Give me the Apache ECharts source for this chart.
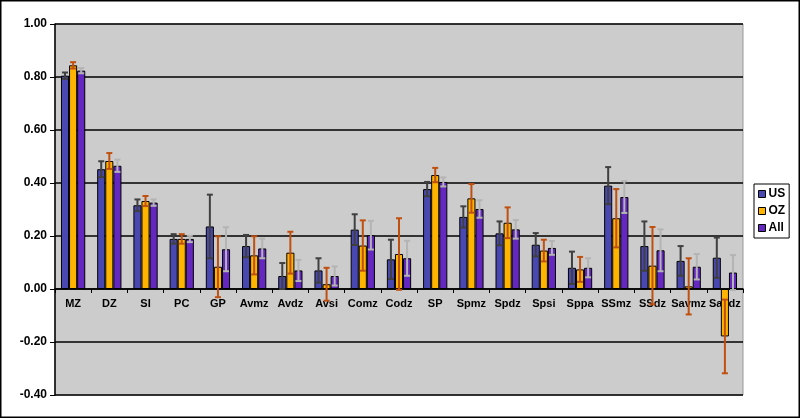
<!DOCTYPE html>
<html><head><meta charset="utf-8">
<script src="https://cdn.jsdelivr.net/npm/echarts@6/dist/echarts.min.js"></script>
<style>html,body{margin:0;padding:0;background:#fff}#c{width:800px;height:418px}</style>
</head><body><div id="c"></div>
<script>
const categories = ['MZ','DZ','SI','PC','GP','Avmz','Avdz','Avsi','Comz','Codz','SP','Spmz','Spdz','Spsi','Sppa','SSmz','SSdz','Savmz','Savdz'];
const usValues  = [0.805,0.452,0.316,0.189,0.236,0.162,0.049,0.070,0.224,0.112,0.377,0.272,0.210,0.167,0.080,0.390,0.162,0.106,0.118];
const ozValues  = [0.844,0.483,0.332,0.189,0.084,0.127,0.137,0.018,0.164,0.132,0.430,0.342,0.250,0.145,0.074,0.267,0.088,0.010,-0.179];
const allValues = [0.824,0.465,0.326,0.189,0.150,0.153,0.070,0.049,0.203,0.116,0.404,0.302,0.225,0.155,0.080,0.347,0.146,0.084,0.062];
const usErr  = [0.012,0.030,0.022,0.018,0.120,0.042,0.049,0.046,0.058,0.074,0.027,0.040,0.045,0.044,0.061,0.070,0.093,0.056,0.076];
const ozErr  = [0.012,0.030,0.019,0.018,0.115,0.072,0.079,0.062,0.095,0.135,0.027,0.054,0.058,0.041,0.047,0.110,0.146,0.106,0.139];
const allErr = [0.010,0.023,0.012,0.012,0.083,0.037,0.040,0.036,0.054,0.066,0.017,0.033,0.035,0.026,0.036,0.060,0.079,0.048,0.066];
const yTicks = [-0.4,-0.2,0,0.2,0.4,0.6,0.8,1.0];

const font = 'Liberation Sans, Arial, sans-serif';
const CAT_GAP = 0.33;
const GRID = {left:55, right:57, top:24, bottom:23};
const Y_MIN = -0.4, Y_MAX = 1.0;
const plotH = 418 - GRID.top - GRID.bottom;
const zeroOffset = -plotH * (0 - Y_MIN) / (Y_MAX - Y_MIN);

function errSeries(name, vals, errs, color, slot){
  return {
    type:'custom', name:name, z:5,
    data: vals.map((v,i)=>[i,v,errs[i]]),
    encode:{x:0,y:1},
    renderItem:function(params, api){
      const i = api.value(0), v = api.value(1), e = api.value(2);
      const cw = api.size([1,0])[0];
      const bw = cw*(1-CAT_GAP)/3;
      const c = api.coord([i,v]);
      const x = c[0] + (slot-1)*bw;
      const t = api.coord([i,v+e])[1];
      const b = api.coord([i,v-e])[1];
      const h = 3;
      const st = {stroke:color, lineWidth:2};
      return {type:'group', children:[
        {type:'line', shape:{x1:x,y1:t,x2:x,y2:b}, style:st},
        {type:'line', shape:{x1:x-h,y1:t,x2:x+h,y2:t}, style:st},
        {type:'line', shape:{x1:x-h,y1:b,x2:x+h,y2:b}, style:st}
      ]};
    }
  };
}
const barStyle = c => ({color:c, borderColor:'#000', borderWidth:1});
const chart = echarts.init(document.getElementById('c'));
chart.setOption({
  animation:false,
  textStyle:{fontFamily:font},
  graphic:[{type:'rect', shape:{x:0.75,y:0.75,width:798.5,height:416.5}, style:{fill:'none', stroke:'#000', lineWidth:1.5}, z:100}],
  grid:Object.assign({show:true, backgroundColor:'#cccccc', borderColor:'#999', borderWidth:1}, GRID),
  legend:{
    data:['US','OZ','All'], orient:'vertical', left:754, top:184,
    itemWidth:7, itemHeight:7, itemGap:5, padding:[4,4,4,4],
    borderColor:'#000', borderWidth:1, backgroundColor:'#fff',
    textStyle:{fontFamily:font, fontWeight:'bold', fontSize:12, color:'#000', padding:[0,0,0,-2]},
    itemStyle:{borderColor:'#000', borderWidth:1},
    icon:'rect'
  },
  xAxis:{
    type:'category', data:categories, position:'bottom', offset:zeroOffset,
    axisLine:{onZero:false, lineStyle:{color:'#000', width:1.5}},
    axisTick:{show:true, length:4, lineStyle:{color:'#000'}},
    axisLabel:{fontFamily:font, fontWeight:'bold', fontSize:11, color:'#000', margin:9, interval:0}
  },
  yAxis:{
    type:'value', min:Y_MIN, max:Y_MAX, interval:0.2,
    axisLine:{show:true, lineStyle:{color:'#000', width:1.5}},
    axisTick:{show:true, length:5, lineStyle:{color:'#000'}},
    axisLabel:{fontFamily:font, fontWeight:'bold', fontSize:12, color:'#000', margin:8,
      formatter:v=>{const f=yTicks.find(t=>Math.abs(t-v)<1e-9); return (f!==undefined?f:v).toFixed(2);}},
    splitLine:{show:true, lineStyle:{color:'#000', width:1.5}}
  },
  series:[
    {type:'bar', name:'US', data:usValues, barGap:'0%', barCategoryGap:(CAT_GAP*100)+'%', itemStyle:barStyle('#4848B0')},
    {type:'bar', name:'OZ', data:ozValues, barGap:'0%', barCategoryGap:(CAT_GAP*100)+'%', itemStyle:barStyle('#FFB400')},
    {type:'bar', name:'All', data:allValues, barGap:'0%', barCategoryGap:(CAT_GAP*100)+'%', itemStyle:barStyle('#6428C0')},
    errSeries('US err', usValues, usErr, '#404040', 0),
    errSeries('OZ err', ozValues, ozErr, '#C05010', 1),
    errSeries('All err', allValues, allErr, '#B4B4B4', 2)
  ]
});
</script></body></html>
